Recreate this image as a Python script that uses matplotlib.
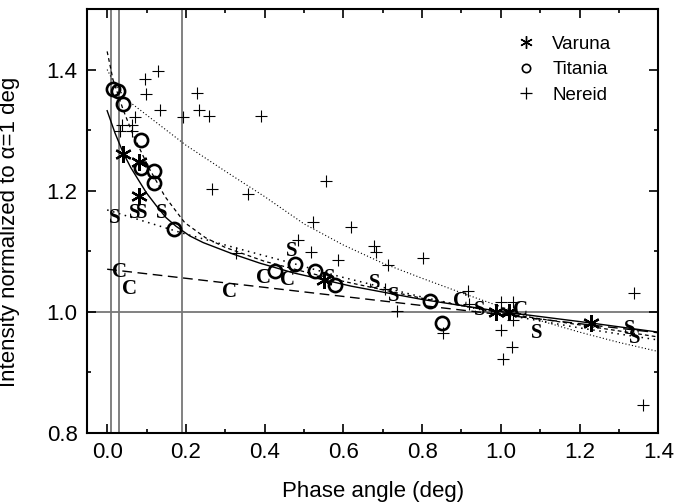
import matplotlib
matplotlib.use("Agg")
import matplotlib.pyplot as plt
from matplotlib.lines import Line2D
from matplotlib.ticker import MultipleLocator

plt.rcParams['font.family'] = ['Liberation Sans', 'DejaVu Sans']

# observed points
varuna_x = [0.04, 0.08, 0.08, 0.55, 0.987, 1.021, 1.229]
varuna_y = [1.26, 1.248, 1.191, 1.052, 1.0, 1.0, 0.981]

titania_x = [0.015, 0.028, 0.039, 0.087, 0.087, 0.119, 0.119, 0.169,
             0.426, 0.477, 0.528, 0.579, 0.820, 0.850]
titania_y = [1.368, 1.364, 1.343, 1.284, 1.238, 1.233, 1.212, 1.136,
             1.067, 1.078, 1.067, 1.044, 1.017, 0.981]

nereid_x = [0.130, 0.096, 0.098, 0.134, 0.227, 0.234, 0.259, 0.193, 0.070,
            0.037, 0.064, 0.032, 0.064, 0.391, 0.267, 0.358, 0.327, 0.486,
            0.524, 0.556, 0.519, 0.587, 0.619, 0.678, 0.683, 0.713, 0.803,
            0.707, 0.737, 0.916, 0.920, 0.854, 1.001, 1.032, 1.032, 1.0,
            1.028, 1.005, 1.339, 1.36]
nereid_y = [1.398, 1.385, 1.360, 1.333, 1.361, 1.333, 1.323, 1.321, 1.321,
            1.309, 1.309, 1.299, 1.299, 1.323, 1.202, 1.194, 1.096, 1.118,
            1.148, 1.216, 1.098, 1.085, 1.139, 1.108, 1.098, 1.077, 1.089,
            1.038, 1.001, 1.034, 1.012, 0.965, 1.016, 1.016, 0.986, 0.969,
            0.941, 0.921, 1.031, 0.846]

# "S" and "C" labelled points
s_x = [0.02, 0.07, 0.087, 0.138, 0.469, 0.566, 0.680, 0.729, 0.947, 1.091, 1.328, 1.339]
s_y = [1.154, 1.163, 1.163, 1.163, 1.100, 1.055, 1.047, 1.026, 1.002, 0.965, 0.971, 0.956]
c_x = [0.032, 0.056, 0.312, 0.396, 0.458, 0.898, 1.049]
c_y = [1.066, 1.037, 1.033, 1.056, 1.052, 1.018, 1.002]

# fitted curves
varuna_fit_x = [0.0, 0.02, 0.041, 0.06, 0.079, 0.1, 0.126, 0.15, 0.175, 0.21,
                0.244, 0.32, 0.388, 0.473, 0.62, 0.8, 1.0, 1.23, 1.4]
varuna_fit_y = [1.332, 1.295, 1.262, 1.238, 1.218, 1.196, 1.174, 1.155, 1.141,
                1.125, 1.114, 1.095, 1.080, 1.064, 1.042, 1.020, 1.0, 0.981, 0.966]

titania_fit_x = [0.0, 0.015, 0.041, 0.066, 0.104, 0.147, 0.197, 0.25, 0.3, 0.4,
                 0.5, 0.6, 0.8, 1.0, 1.2, 1.4]
titania_fit_y = [1.43, 1.383, 1.333, 1.292, 1.240, 1.190, 1.147, 1.122, 1.106,
                 1.083, 1.066, 1.05, 1.022, 0.998, 0.978, 0.958]

nereid_fit_x = [0.0, 0.02, 0.05, 0.1, 0.2, 0.3, 0.4, 0.5, 0.6, 0.7, 0.8, 0.9,
                1.0, 1.1, 1.2, 1.3, 1.4]
nereid_fit_y = [1.40, 1.375, 1.35, 1.325, 1.275, 1.232, 1.19, 1.145, 1.11, 1.08,
                1.055, 1.031, 1.008, 0.985, 0.966, 0.949, 0.934]

s_fit_x = [0.0, 0.1, 0.2, 0.35, 0.47, 0.59, 0.8, 1.0, 1.2, 1.4]
s_fit_y = [1.168, 1.148, 1.128, 1.101, 1.080, 1.058, 1.024, 0.996, 0.973, 0.953]

c_fit_x = [0.0, 1.4]
c_fit_y = [1.070, 0.965]

ref_x = [0.01, 0.03, 0.19]
ref_y = 1.0

fig = plt.figure(figsize=(6.78, 5.03), dpi=100)
ax = fig.add_axes([0.129, 0.140, 0.842, 0.842])

for xv in ref_x:
    ax.axvline(xv, color='#777777', lw=1.3, zorder=1)
ax.axhline(ref_y, color='#777777', lw=1.3, zorder=1)

ax.plot(varuna_fit_x, varuna_fit_y, color='black', lw=1.0, zorder=2)
ax.plot(titania_fit_x, titania_fit_y, color='black', lw=0.9, ls=(0, (3, 2.5)), zorder=2)
ax.plot(nereid_fit_x, nereid_fit_y, color='black', lw=0.8, ls=(0, (1, 2)), zorder=2)
ax.plot(s_fit_x, s_fit_y, color='black', lw=1.1, ls=(0, (1, 3)), zorder=2)
ax.plot(c_fit_x, c_fit_y, color='black', lw=1.0, ls=(0, (7, 4)), zorder=2)

ax.plot(nereid_x, nereid_y, ls='none', marker='+', ms=8, mew=0.8, color='black', zorder=3)
ax.plot(titania_x, titania_y, ls='none', marker='o', ms=9.5, mew=1.9,
        mfc='none', mec='black', zorder=4)
ax.plot(varuna_x, varuna_y, ls='none', marker=(6, 2, 0), ms=12, mew=1.6,
        color='black', zorder=5)

for xv, yv in zip(s_x, s_y):
    ax.text(xv, yv, 'S', family='Liberation Serif', weight='bold', fontsize=15,
            ha='center', va='center', zorder=4)
for xv, yv in zip(c_x, c_y):
    ax.text(xv, yv, 'C', family='Liberation Serif', weight='bold', fontsize=15,
            ha='center', va='center', zorder=4)

ax.set_xlim(-0.05, 1.4)
ax.set_ylim(0.8, 1.5)
ax.xaxis.set_major_locator(MultipleLocator(0.2))
ax.xaxis.set_minor_locator(MultipleLocator(0.1))
ax.yaxis.set_major_locator(MultipleLocator(0.2))
ax.yaxis.set_minor_locator(MultipleLocator(0.1))
ax.xaxis.set_major_formatter(plt.FormatStrFormatter('%.1f'))
ax.yaxis.set_major_formatter(plt.FormatStrFormatter('%.1f'))
ax.tick_params(which='both', direction='in', top=True, right=True, width=1.2,
               labelsize=16, pad=7)
ax.tick_params(which='major', length=6.3)
ax.tick_params(which='minor', length=3.2)
for sp in ax.spines.values():
    sp.set_linewidth(1.5)

ax.set_xlabel('Phase angle (deg)', fontsize=16, labelpad=13)
ax.set_ylabel('Intensity normalized to α=1 deg', fontsize=16)
ax.yaxis.set_label_coords(-0.118, 0.474)

handles = [
    Line2D([], [], ls='none', marker=(6, 2, 0), ms=9, mew=1.0, color='black'),
    Line2D([], [], ls='none', marker='o', ms=6, mew=1.2, mfc='none', mec='black'),
    Line2D([], [], ls='none', marker='+', ms=8, mew=0.9, color='black'),
]
ax.legend(handles, ['Varuna', 'Titania', 'Nereid'], frameon=False, fontsize=13.5,
          loc='upper left', bbox_to_anchor=(0.722, 0.977), handlelength=1.0,
          handletextpad=0.9, labelspacing=0.45)

fig.savefig('out.png', dpi=100)
